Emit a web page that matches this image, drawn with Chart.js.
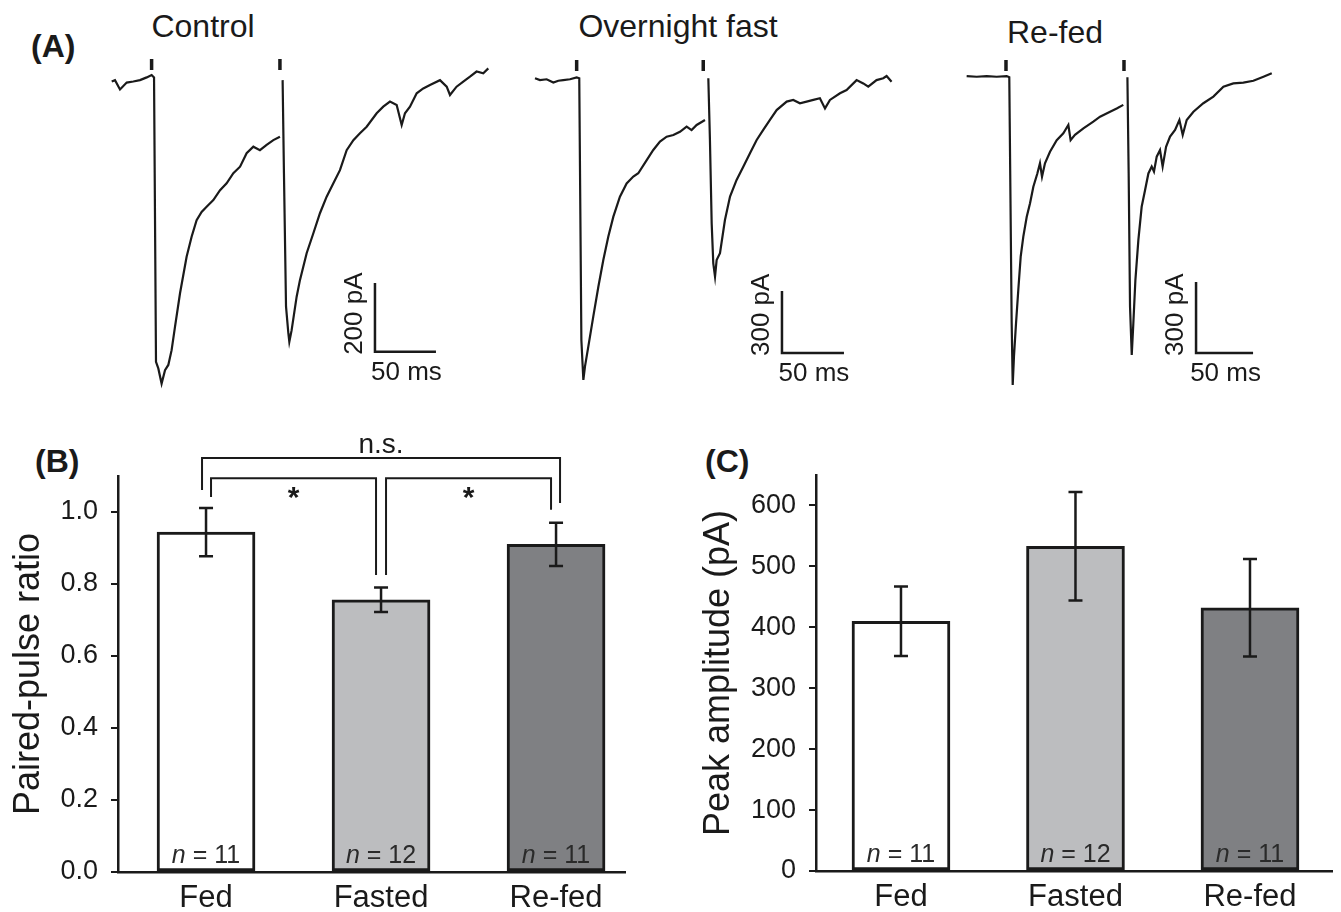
<!DOCTYPE html>
<html>
<head>
<meta charset="utf-8">
<script src="https://cdn.jsdelivr.net/npm/chart.js@4.4.1/dist/chart.umd.min.js"></script>
<style>
  body { margin: 0; background: #fff; width: 1341px; height: 912px; position: relative; overflow: hidden;
         font-family: "Liberation Sans", Arial, Helvetica, sans-serif; color: #1a1a1a; }
  canvas { position: absolute; }
  .panel { position: absolute; font-weight: bold; font-size: 32px; line-height: 32px; }
  .title { position: absolute; font-size: 32px; line-height: 32px; transform: translateX(-50%); white-space: nowrap; }
</style>
</head>
<body>
<div class="panel" style="left:31px;top:30px">(A)</div>
<div class="panel" style="left:35px;top:445px">(B)</div>
<div class="panel" style="left:705px;top:445px">(C)</div>
<div class="title" style="left:203px;top:10px">Control</div>
<div class="title" style="left:678px;top:10px">Overnight fast</div>
<div class="title" style="left:1055px;top:16px">Re-fed</div>

<canvas id="ctrl" width="400" height="360" style="left:100px;top:40px"></canvas>
<canvas id="fast" width="380" height="360" style="left:520px;top:40px"></canvas>
<canvas id="refed" width="340" height="360" style="left:950px;top:40px"></canvas>
<canvas id="ppr" width="640" height="482" style="left:0px;top:430px"></canvas>
<canvas id="amp" width="661" height="482" style="left:680px;top:430px"></canvas>

<script>
let fam = '"Liberation Sans", Arial, Helvetica, sans-serif';
Chart.defaults.font.family = fam;
Chart.defaults.color = '#1a1a1a';

// (B) and (C) summary values
let groups = ['Fed', 'Fasted', 'Re-fed'];
let cellCounts = [11, 12, 11];
let pprMean = [0.944, 0.756, 0.910];
let pprSem = [0.067, 0.034, 0.060];
let ampMean = [410, 533, 432];
let ampSem = [57, 89, 80];
let pprTicks = [0, 0.2, 0.4, 0.6, 0.8, 1.0];
let ampTicks = [0, 100, 200, 300, 400, 500, 600];

// significance brackets in (B), in ratio units
let pprBrackets = [
  {from: 0, to: 2, level: 1.15, legs: [1.061, 1.025], text: 'n.s.'},
  {from: 0, to: 1, level: 1.094, legs: [1.042, 0.825], text: '*'},
  {from: 1, to: 2, level: 1.094, legs: [0.825, 1.006], text: '*'}
];

// (A) example traces, [time ms, current pA], two sweeps each
let ctrlSweep1 = [[9.6,-16],[12.3,-12],[16.4,-39],[21.9,-19],[27.3,-16],[32.8,-12],[38.3,-4],[42.3,3],[44.3,-4],
  [45.9,-829],[47.8,-848],[50.5,-892],[53.3,-853],[56,-838],[58.7,-795],[61.5,-727],[65.6,-630],[71,-524],
  [75.1,-466],[79.2,-418],[83.3,-394],[87.4,-379],[92.9,-360],[98.4,-331],[103.8,-311],[109.3,-282],
  [114.8,-263],[120.2,-224],[125.7,-205],[131.1,-215],[136.6,-200],[142.1,-186],[147.5,-176]];
let ctrlSweep2 = [[149.7,-12],[150.8,-282],[152.5,-669],[154.4,-746],[155.2,-771],[157.1,-737],[161.2,-640],
  [163.9,-592],[169.4,-514],[174.9,-456],[180.3,-398],[185.8,-350],[191.3,-311],[196.7,-273],[202.2,-215],
  [207.7,-186],[213.1,-166],[218.6,-147],[226.8,-108],[232.2,-89],[237.7,-74],[243.2,-84],[247.3,-142],
  [250,-108],[254.1,-89],[259.6,-50],[265,-36],[270.5,-26],[278.7,-12],[284.2,-31],[286.9,-55],[292.3,-31],
  [297.8,-16],[303.3,-2],[308.7,13],[314.2,8],[318.3,22]];
let fastSweep1 = [[12.1,-6],[16.1,-15],[21.5,-11],[26.9,-27],[30.9,-18],[34.9,-15],[40.3,-11],[45.7,-2],[47.8,-6],
  [49.5,-1273],[51.1,-1466],[52.4,-1402],[55.1,-1305],[59.1,-1160],[63.2,-1015],[67.2,-886],[71.2,-773],
  [75.3,-676],[80.6,-579],[86,-515],[91.4,-482],[95.4,-466],[102.2,-402],[107.5,-353],[112.9,-313],
  [118.3,-289],[123.7,-281],[129,-265],[134.4,-240],[138.4,-257],[142.5,-232],[149.2,-208]];
let fastSweep2 = [[151.9,-6],[153.2,-305],[154.6,-708],[155.9,-902],[157.3,-966],[158.6,-886],[161.3,-853],
  [165.3,-692],[169.4,-579],[174.7,-498],[180.1,-434],[185.5,-369],[190.9,-305],[196.2,-256],[201.6,-208],
  [207,-160],[215.1,-119],[220.4,-111],[225.8,-127],[231.2,-119],[236.6,-111],[241.9,-103],[246,-152],
  [250,-111],[258.1,-79],[263.4,-63],[271.5,-15],[276.9,-31],[280.9,-47],[287.6,-15],[293,-6],[295.7,5],[299.7,-23]];
let refedSweep1 = [[14.6,4],[23.4,1],[32.2,4],[40.9,1],[49.7,4],[52,-1],[54.1,-1042],[55,-1303],[56.1,-1183],
  [57.9,-1042],[59.9,-901],[62,-760],[64.3,-675],[67.3,-591],[70.2,-534],[73.1,-464],[76.6,-408],[78.9,-365],
  [80.7,-422],[83.3,-365],[87.7,-316],[93.6,-267],[99.4,-238],[103.8,-203],[105.8,-267],[109.6,-245],
  [117,-217],[125.7,-189],[131.6,-168],[140.4,-147],[146.2,-133],[152,-118]];
let refedSweep2 = [[155.6,-1],[156.7,-408],[157.9,-972],[159.4,-1176],[160.8,-1042],[162.6,-859],[165.2,-690],
  [168.1,-549],[171.1,-478],[174,-408],[176.9,-379],[178.9,-400],[181.3,-337],[184.2,-309],[186.5,-379],
  [189.5,-295],[193,-252],[197.4,-224],[201.2,-182],[204.1,-245],[207.6,-182],[213.5,-147],[222.2,-111],
  [231,-83],[239.8,-41],[248.5,-27],[257.3,-24],[266.1,-16],[274.9,1],[282.2,16]];
let ctrlStim = [42.3, 147.5];
let fastStim = [45.7, 147.8];
let refedStim = [49.1, 152.6];

let ink = '#1a1a1a';

// stimulus marks and scale bars for the traces
let traceMarks = {
  id: 'traceMarks',
  afterDatasetsDraw(chart) {
    let o = chart.options.plugins.traceMarks;
    let ctx = chart.ctx, x = chart.scales.x, y = chart.scales.y;
    ctx.save();
    ctx.strokeStyle = ink;
    ctx.fillStyle = ink;
    let y0 = y.getPixelForValue(0);
    ctx.lineWidth = 3.5;
    o.stim.forEach(t => {
      let px = x.getPixelForValue(t);
      ctx.beginPath(); ctx.moveTo(px, y0 - 6); ctx.lineTo(px, y0 - 17); ctx.stroke();
    });
    let b = o.bar;
    let bx = x.getPixelForValue(b.t), by = y.getPixelForValue(b.i);
    let bx2 = x.getPixelForValue(b.t + b.ms), by2 = y.getPixelForValue(b.i + b.pA);
    ctx.lineWidth = 2.5;
    ctx.beginPath(); ctx.moveTo(bx, by2); ctx.lineTo(bx, by); ctx.lineTo(bx2, by); ctx.stroke();
    ctx.font = '26px ' + fam;
    ctx.textAlign = 'center'; ctx.textBaseline = 'top';
    ctx.fillText(b.ms + ' ms', (bx + bx2) / 2 + 1, by + 8);
    ctx.translate(bx - 20, by + 3);
    ctx.rotate(-Math.PI / 2);
    ctx.textAlign = 'left'; ctx.textBaseline = 'middle';
    ctx.fillText(b.pA + ' pA', 0, 0);
    ctx.restore();
  }
};

function drawTrace(id, sweeps, stim, bar, xMax, yMin, yMax) {
  new Chart(document.getElementById(id), {
    type: 'line',
    data: {
      datasets: sweeps.map(s => ({
        data: s.map(p => ({x: p[0], y: p[1]})),
        borderColor: ink, borderWidth: 2.2, pointRadius: 0, tension: 0, fill: false
      }))
    },
    options: {
      responsive: false, animation: false, devicePixelRatio: 1,
      layout: {padding: 0},
      scales: {
        x: {type: 'linear', display: false, min: 0, max: xMax},
        y: {type: 'linear', display: false, min: yMin, max: yMax}
      },
      plugins: {legend: {display: false}, tooltip: {enabled: false}, traceMarks: {stim: stim, bar: bar}}
    },
    plugins: [traceMarks]
  });
}

drawTrace('ctrl', [ctrlSweep1, ctrlSweep2], ctrlStim, {t: 225.4, i: -800, ms: 50, pA: 200}, 327.9, -939.6, 104.4);
drawTrace('fast', [fastSweep1, fastSweep2], fastStim, {t: 211.3, i: -1336, ms: 50, pA: 300}, 306.5, -1563.3, 179.1);
drawTrace('refed', [refedSweep1, refedSweep2], refedStim, {t: 215.8, i: -1167, ms: 50, pA: 300}, 298.2, -1366.3, 156.5);

// error bars, n labels and brackets for the bar panels
let barMarks = {
  id: 'barMarks',
  afterDatasetsDraw(chart) {
    let o = chart.options.plugins.barMarks;
    let ctx = chart.ctx, x = chart.scales.x, y = chart.scales.y;
    ctx.save();
    ctx.strokeStyle = ink;
    ctx.fillStyle = ink;
    ctx.lineWidth = 2.5;
    o.mean.forEach((m, i) => {
      let px = x.getPixelForValue(i);
      let top = y.getPixelForValue(m + o.sem[i]), bot = y.getPixelForValue(m - o.sem[i]);
      ctx.beginPath();
      ctx.moveTo(px, top); ctx.lineTo(px, bot);
      ctx.moveTo(px - 7, top); ctx.lineTo(px + 7, top);
      ctx.moveTo(px - 7, bot); ctx.lineTo(px + 7, bot);
      ctx.stroke();

      let rest = ' = ' + cellCounts[i];
      ctx.font = 'italic 25px ' + fam;
      let w1 = ctx.measureText('n').width;
      ctx.font = '25px ' + fam;
      let w2 = ctx.measureText(rest).width;
      let sx = px - (w1 + w2) / 2, base = y.getPixelForValue(0) - 9;
      ctx.fillStyle = '#2a2a2a';
      ctx.textAlign = 'left'; ctx.textBaseline = 'alphabetic';
      ctx.font = 'italic 25px ' + fam;
      ctx.fillText('n', sx, base);
      ctx.font = '25px ' + fam;
      ctx.fillText(rest, sx + w1, base);
      ctx.fillStyle = ink;
    });
    ctx.lineWidth = 2;
    (o.brackets || []).forEach(b => {
      let wide = b.to - b.from > 1;
      let x1 = x.getPixelForValue(b.from) + (wide ? -4 : 5);
      let x2 = x.getPixelForValue(b.to) + (wide ? 4 : -5);
      let ly = y.getPixelForValue(b.level);
      ctx.beginPath();
      ctx.moveTo(x1, y.getPixelForValue(b.legs[0]));
      ctx.lineTo(x1, ly); ctx.lineTo(x2, ly);
      ctx.lineTo(x2, y.getPixelForValue(b.legs[1]));
      ctx.stroke();
      ctx.textAlign = 'center'; ctx.textBaseline = 'alphabetic';
      if (b.text === '*') {
        ctx.font = 'bold 30px ' + fam;
        ctx.fillText(b.text, (x1 + x2) / 2, ly + 29);
      } else {
        ctx.font = '28px ' + fam;
        ctx.fillText(b.text, (x1 + x2) / 2, ly - 5);
      }
    });
    ctx.restore();
  }
};

function drawBars(id, mean, sem, ticks, fmt, yMax, xMin, xMax, title, brackets, geom) {
  new Chart(document.getElementById(id), {
    type: 'bar',
    data: {
      datasets: [{
        data: mean.map((v, i) => ({x: i, y: v})),
        backgroundColor: ['#ffffff', '#bcbdbf', '#7f8083'],
        borderColor: ink, borderWidth: 3, borderSkipped: false,
        barThickness: 98
      }]
    },
    options: {
      responsive: false, animation: false, devicePixelRatio: 1,
      layout: {padding: {top: geom.top, right: geom.right, left: 0, bottom: 0}},
      scales: {
        x: {
          type: 'linear', min: xMin, max: xMax, offset: false,
          afterBuildTicks: s => { s.ticks = groups.map((g, i) => ({value: i})); },
          afterFit: s => { s.height = geom.xh; },
          grid: {display: true, drawOnChartArea: false, drawTicks: false, offset: false},
          border: {display: true, color: ink, width: 2.5},
          ticks: {font: {size: 31}, padding: 8, color: ink, autoSkip: false, maxRotation: 0, callback: v => groups[v]}
        },
        y: {
          min: 0, max: yMax,
          afterBuildTicks: s => { s.ticks = ticks.map(v => ({value: v})); },
          afterFit: s => { s.width = geom.yw; },
          grid: {display: true, drawOnChartArea: false, drawTicks: true, tickLength: 7, color: ink, lineWidth: 2},
          border: {display: true, color: ink, width: 2.5},
          ticks: {font: {size: 27}, padding: 13, color: ink, callback: fmt},
          title: {display: true, text: title, color: ink, font: {size: 36}, padding: {top: geom.tp, bottom: 0}}
        }
      },
      plugins: {
        legend: {display: false}, tooltip: {enabled: false},
        barMarks: {mean: mean, sem: sem, brackets: brackets}
      }
    },
    plugins: [barMarks]
  });
}

drawBars('ppr', pprMean, pprSem, pprTicks, v => v.toFixed(1), 1.1, -0.503, 2.394,
  'Paired-pulse ratio', pprBrackets, {top: 46, right: 15, xh: 40, yw: 118, tp: 7});
drawBars('amp', ampMean, ampSem, ampTicks, v => String(v), 650, -0.487, 2.47,
  'Peak amplitude (pA)', [], {top: 45, right: 9, xh: 41, yw: 136, tp: 17});
</script>
</body>
</html>
